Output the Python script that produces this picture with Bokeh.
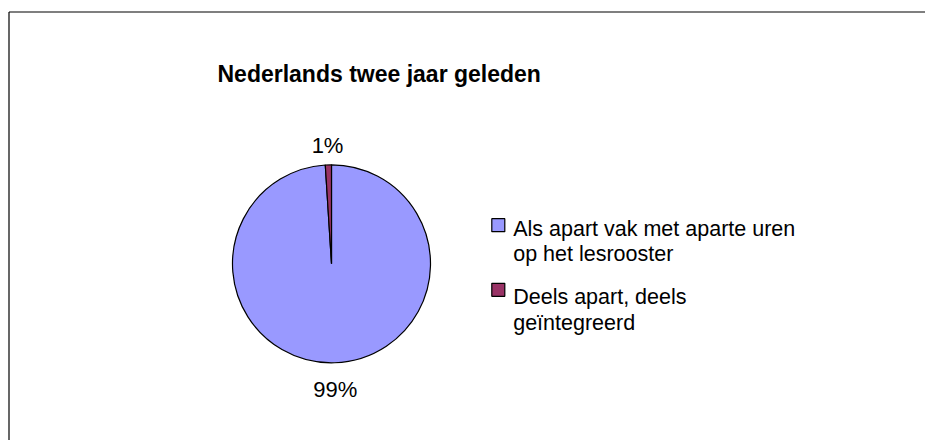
import math
from bokeh.plotting import figure
from bokeh.models import Range1d
from bokeh.core.properties import value
from bokeh.embed import file_html
from bokeh.resources import INLINE

# ---- data ----
title_text = "Nederlands twee jaar geleden"
categories = ["Als apart vak met aparte uren\nop het lesrooster", "Deels apart, deels\ngeïntegreerd"]
percentages = [99, 1]
pct_labels = ["99%", "1%"]
colors = ["#9999FF", "#993366"]

W, H = 925, 440
p = figure(width=W, height=H, output_backend="svg", toolbar_location=None,
           x_axis_type=None, y_axis_type=None, min_border=0,
           x_range=Range1d(0, W), y_range=Range1d(0, H))
p.outline_line_color = None
p.grid.visible = False
p.background_fill_color = "white"
p.border_fill_color = "white"

FONT = value("Liberation Sans")

# screenshot coords -> figure coords: x = px, y = H - py
def fy(py):
    return H - py

# chart frame: only left and top edges are visible in the crop
p.segment(x0=[8.5, 8.5], y0=[fy(11.5), fy(11.5)], x1=[8.5, W], y1=[0, fy(11.5)],
          line_color="black", line_width=1.2)

# pie
cx, cy, r = 331, fy(263.3), 99
total = float(sum(percentages))
starts, ends, mids = [], [], []
cum = 0.0
for v in percentages:
    a0 = math.pi / 2 - 2 * math.pi * cum / total
    cum += v
    a1 = math.pi / 2 - 2 * math.pi * cum / total
    starts.append(a0)
    ends.append(a1)
    mids.append((a0 + a1) / 2)

p.wedge(x=[cx] * len(percentages), y=[cy] * len(percentages), radius=r,
        start_angle=starts, end_angle=ends, direction="clock",
        fill_color=colors, line_color="black", line_width=1.2)

# percentage labels
label_fs = 22
label_dist = [117.5, 126.5]
lx, ly = [], []
for m, d in zip(mids, label_dist):
    lx.append(cx + d * math.cos(m))
    ly.append(cy + d * math.sin(m) - 0.358 * label_fs)
p.text(x=lx, y=ly, text=pct_labels, text_font=FONT,
       text_font_size=f"{label_fs}px", text_align="center",
       text_baseline="alphabetic", text_color="black")

# title
p.text(x=[217], y=[fy(73.3)], text=[title_text], text_font=FONT,
       text_font_size="23px", text_font_style="bold", text_align="left",
       text_baseline="alphabetic", text_color="black")

# legend
box_y = [fy(224.7), fy(289.3)]
first_base = [fy(228.0), fy(296.5)]
line_gap = 25.5
p.rect(x=[497.8] * len(categories), y=box_y, width=13, height=13,
       fill_color=colors, line_color="black", line_width=1.2)
tx, ty, tt = [], [], []
for lab, b in zip(categories, first_base):
    for k, line in enumerate(lab.split("\n")):
        tx.append(512.7)
        ty.append(b - k * line_gap)
        tt.append(line)
p.text(x=tx, y=ty, text=tt, text_font=FONT, text_font_size="21.5px",
       text_align="left", text_baseline="alphabetic", text_color="black")

open("out.html", "w").write(file_html(p, INLINE))
